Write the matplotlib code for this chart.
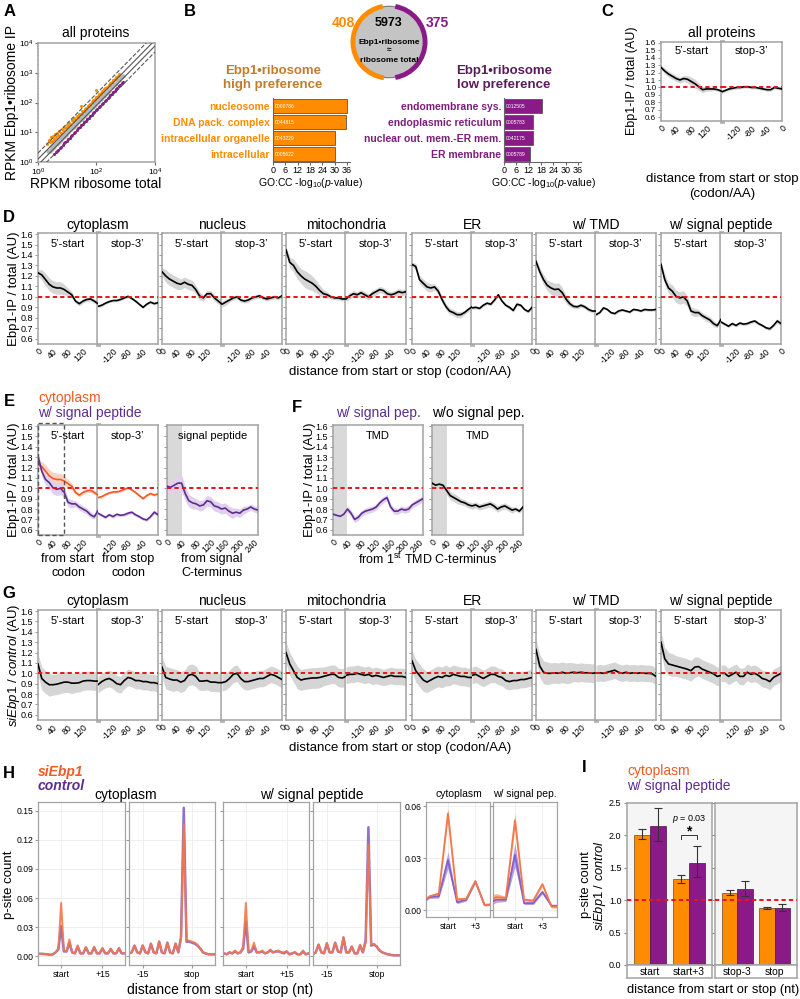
import matplotlib.pyplot as plt
from matplotlib.patches import Circle, Arc, Rectangle
import numpy as np

plt.rcParams['font.family'] = ['Liberation Sans', 'DejaVu Sans']
plt.rcParams['mathtext.fontset'] = 'custom'
plt.rcParams['mathtext.rm'] = 'Liberation Sans'
plt.rcParams['mathtext.it'] = 'Liberation Sans:italic'
plt.rcParams['mathtext.bf'] = 'Liberation Sans:bold'

# ---------------- data ----------------
# A: RPKM scatter (total, IP)
A_GREY_X = [2.2, 2.5, 2.8, 3.0, 3.3, 3.6, 4.0, 4.3, 4.8, 5.2, 5.7, 6.2, 6.8, 7.5, 8.2, 9.0, 10, 11, 12, 13.5,
            15, 16.5, 18, 20, 22, 25, 28, 31, 35, 39, 43, 48, 53, 60, 66, 74, 82, 92, 100, 112,
            125, 140, 155, 175, 195, 220, 245, 275, 310, 350, 400, 450, 520, 600, 700, 800]
A_GREY_Y = [2.4, 2.3, 3.1, 2.7, 3.6, 3.3, 4.3, 3.9, 5.2, 4.7, 6.1, 5.6, 7.3, 6.9, 8.8, 8.3, 10.8, 10, 13, 12.4,
            16, 15, 19.5, 18.5, 24, 23, 30, 28.5, 37, 36, 46, 44, 57, 55, 71, 68, 88, 85, 107, 103,
            134, 129, 166, 161, 209, 202, 262, 253, 330, 322, 425, 415, 550, 555, 740, 760]
A_HIGH_X = [2.1, 2.3, 2.5, 2.7, 3.0, 3.2, 3.5, 3.8, 4.1, 4.5, 5.0, 5.4, 6.0, 6.5, 7.2, 8.0, 8.8, 9.5, 10.5, 11.5,
            12.5, 14, 15.5, 17, 19, 21, 23, 26, 29, 32, 36, 40, 45, 50, 56, 62, 70, 78, 88, 98,
            110, 125, 140, 160, 180, 200, 230, 260, 300, 340, 380, 430, 480, 540, 600, 95, 30]
A_HIGH_Y = [4.0, 5.5, 4.6, 6.8, 5.2, 7.5, 6.0, 8.5, 7.0, 9.5, 8.0, 11, 9.5, 13, 11.5, 15, 13.5, 18, 16, 21,
            19, 26, 23, 30, 28, 35, 33, 42, 40, 50, 52, 62, 66, 75, 85, 92, 105, 120, 135, 150,
            170, 190, 210, 240, 280, 300, 340, 380, 440, 500, 560, 620, 700, 800, 900, 260, 75]
A_LOW_X = [3.5, 4.0, 4.5, 5.0, 5.5, 6.2, 7.0, 7.8, 8.6, 9.5, 10.5, 12, 13.5, 15, 17, 19, 21.5, 24, 27, 30,
           34, 38, 43, 48, 54, 60, 68, 76, 85, 95, 107, 120, 135, 150, 170, 190, 215, 240, 270, 300,
           340, 380, 420, 470, 520, 580, 650, 720, 800]
A_LOW_Y = [1.9, 2.1, 2.4, 2.6, 3.0, 3.3, 3.8, 4.2, 4.8, 5.2, 5.8, 6.6, 7.4, 8.3, 9.5, 10.5, 12, 13.5, 15, 17,
           19, 21.5, 24, 27, 30, 34, 38, 43, 48, 54, 61, 68, 77, 86, 97, 110, 124, 140, 158, 178,
           200, 225, 250, 280, 310, 350, 400, 450, 500]

# B: counts and GO enrichment
B_HIGH_N, B_ALL_N, B_LOW_N = 408, 5973, 375
B_HIGH_TERMS = ['nucleosome', 'DNA pack. complex', 'intracellular organelle', 'intracellular']
B_HIGH_IDS = ['0000786', '0044815', '0043229', '0005622']
B_HIGH_VALS = [36.0, 35.6, 30.0, 30.4]
B_LOW_TERMS = ['endomembrane sys.', 'endoplasmic reticulum', 'nuclear out. mem.-ER mem.', 'ER membrane']
B_LOW_IDS = ['0012505', '0005783', '0042175', '0005789']
B_LOW_VALS = [18.4, 14.2, 14.0, 12.9]

# C-G: metagene profiles (position in codons)
POS_START = [0, 10, 20, 30, 40, 50, 60, 70, 80, 90, 100, 110, 120, 130, 140, 150, 160]
POS_STOP = [-160, -150, -140, -130, -120, -110, -100, -90, -80, -70, -60, -50, -40, -30, -20, -10, 0]

C_ALL_START = [1.27, 1.22, 1.18, 1.15, 1.12, 1.10, 1.12, 1.11, 1.08, 1.05, 1.01, 0.97, 0.98, 0.98, 0.98, 0.97, 0.95]
C_ALL_START_BW = [0.03, 0.04, 0.04, 0.04, 0.04, 0.04, 0.04, 0.05, 0.06, 0.06, 0.05, 0.04, 0.03, 0.03, 0.02, 0.02, 0.02]
C_ALL_STOP = [0.94, 0.96, 0.98, 0.99, 1.0, 1.0, 1.01, 1.01, 1.0, 1.0, 0.99, 0.98, 0.97, 0.97, 1.0, 0.99, 0.98]
C_ALL_STOP_BW = [0.02, 0.02, 0.02, 0.02, 0.02, 0.02, 0.02, 0.02, 0.02, 0.02, 0.02, 0.02, 0.02, 0.02, 0.02, 0.02, 0.02]

D_CYTO_START = [1.23, 1.21, 1.165, 1.12, 1.095, 1.085, 1.085, 1.07, 1.045, 1.02, 0.96, 0.935, 0.96, 0.975, 0.98, 0.96, 0.935]
D_CYTO_START_BW = [0.03, 0.05, 0.06, 0.06, 0.06, 0.06, 0.06, 0.05, 0.04, 0.03, 0.02, 0.02, 0.02, 0.02, 0.02, 0.02, 0.02]
D_CYTO_STOP = [0.91, 0.92, 0.94, 0.955, 0.965, 0.965, 0.975, 0.99, 1.005, 0.985, 0.96, 0.93, 0.90, 0.93, 0.95, 0.935, 0.945]
D_CYTO_STOP_BW = [0.015, 0.015, 0.012, 0.012, 0.012, 0.012, 0.012, 0.012, 0.012, 0.012, 0.012, 0.012, 0.012, 0.012, 0.012, 0.012, 0.012]
D_NUC_START = [1.24, 1.20, 1.17, 1.15, 1.13, 1.12, 1.14, 1.12, 1.11, 1.07, 1.01, 0.99, 1.03, 1.03, 0.99, 0.96, 0.93]
D_NUC_START_BW = [0.04, 0.06, 0.06, 0.06, 0.06, 0.05, 0.05, 0.05, 0.05, 0.04, 0.04, 0.03, 0.03, 0.03, 0.03, 0.03, 0.03]
D_NUC_STOP = [0.93, 0.95, 0.97, 0.99, 1.0, 0.97, 0.96, 0.97, 0.99, 1.0, 1.01, 0.99, 0.98, 0.99, 1.0, 0.99, 1.01]
D_NUC_STOP_BW = [0.03, 0.03, 0.02, 0.02, 0.02, 0.02, 0.02, 0.02, 0.02, 0.02, 0.02, 0.02, 0.02, 0.02, 0.02, 0.02, 0.02]
D_MITO_START = [1.45, 1.33, 1.30, 1.24, 1.20, 1.17, 1.15, 1.13, 1.10, 1.06, 1.03, 1.02, 1.00, 0.99, 0.99, 0.98, 0.98]
D_MITO_START_BW = [0.03, 0.05, 0.06, 0.07, 0.07, 0.08, 0.08, 0.07, 0.06, 0.05, 0.04, 0.03, 0.02, 0.02, 0.02, 0.02, 0.02]
D_MITO_STOP = [0.98, 1.01, 1.03, 1.02, 1.04, 1.02, 1.00, 1.03, 1.05, 1.07, 1.06, 1.03, 1.02, 1.03, 1.05, 1.04, 1.05]
D_MITO_STOP_BW = [0.03, 0.03, 0.03, 0.03, 0.03, 0.03, 0.03, 0.03, 0.03, 0.03, 0.03, 0.03, 0.03, 0.03, 0.03, 0.03, 0.03]
D_ER_START = [1.31, 1.29, 1.165, 1.13, 1.095, 1.085, 1.095, 1.055, 0.975, 0.91, 0.865, 0.85, 0.83, 0.83, 0.85, 0.88, 0.905]
D_ER_START_BW = [0.02, 0.03, 0.04, 0.04, 0.04, 0.04, 0.03, 0.03, 0.03, 0.03, 0.03, 0.03, 0.03, 0.03, 0.02, 0.02, 0.02]
D_ER_STOP = [0.895, 0.90, 0.89, 0.92, 0.94, 0.93, 0.97, 1.02, 0.96, 0.92, 0.90, 0.87, 0.93, 0.92, 0.88, 0.86, 0.90]
D_ER_STOP_BW = [0.015, 0.015, 0.015, 0.015, 0.015, 0.015, 0.015, 0.015, 0.015, 0.015, 0.015, 0.015, 0.015, 0.015, 0.015, 0.015, 0.015]
D_TMD_START = [1.34, 1.24, 1.165, 1.11, 1.085, 1.07, 1.075, 1.04, 0.98, 0.935, 0.91, 0.905, 0.92, 0.905, 0.88, 0.865, 0.865]
D_TMD_START_BW = [0.02, 0.04, 0.05, 0.05, 0.06, 0.06, 0.06, 0.05, 0.04, 0.03, 0.02, 0.02, 0.02, 0.02, 0.02, 0.015, 0.015]
D_TMD_STOP = [0.83, 0.85, 0.895, 0.88, 0.85, 0.84, 0.865, 0.875, 0.865, 0.855, 0.88, 0.875, 0.865, 0.88, 0.875, 0.875, 0.88]
D_TMD_STOP_BW = [0.012, 0.012, 0.012, 0.012, 0.012, 0.012, 0.012, 0.012, 0.012, 0.012, 0.012, 0.012, 0.012, 0.012, 0.012, 0.012, 0.012]
D_SIG_START = [1.31, 1.165, 1.085, 1.055, 1.005, 0.99, 1.0, 0.96, 0.865, 0.85, 0.85, 0.82, 0.80, 0.78, 0.745, 0.725, 0.785]
D_SIG_START_BW = [0.03, 0.05, 0.05, 0.06, 0.06, 0.06, 0.06, 0.05, 0.04, 0.04, 0.03, 0.03, 0.03, 0.03, 0.03, 0.02, 0.02]
D_SIG_STOP = [0.76, 0.74, 0.72, 0.745, 0.727, 0.75, 0.74, 0.745, 0.76, 0.77, 0.745, 0.727, 0.705, 0.695, 0.727, 0.77, 0.745]
D_SIG_STOP_BW = [0.015, 0.015, 0.015, 0.015, 0.015, 0.015, 0.015, 0.015, 0.015, 0.015, 0.015, 0.015, 0.015, 0.015, 0.015, 0.02, 0.02]

# E/F: positions from signal / TMD C-terminus
POS_CTERM = [0, 10, 20, 30, 40, 50, 60, 70, 80, 90, 100, 110, 120, 130, 140, 150, 160, 170, 180, 190, 200, 210, 220, 230, 240, 250]
E_SP = [1.02, 1.01, 1.03, 1.05, 1.05, 0.95, 0.88, 0.86, 0.85, 0.83, 0.84, 0.88, 0.87, 0.83, 0.82, 0.80, 0.81, 0.78, 0.76, 0.77, 0.76, 0.79, 0.80, 0.82, 0.80, 0.79]
E_SP_BW = [0.05, 0.06, 0.07, 0.08, 0.08, 0.07, 0.06, 0.06, 0.05, 0.05, 0.05, 0.05, 0.05, 0.05, 0.05, 0.05, 0.05, 0.05, 0.05, 0.04, 0.04, 0.04, 0.03, 0.03, 0.03, 0.03]
F_SIG = [0.75, 0.74, 0.73, 0.75, 0.80, 0.76, 0.70, 0.72, 0.76, 0.78, 0.79, 0.80, 0.82, 0.86, 0.89, 0.91, 0.82, 0.78, 0.78, 0.80, 0.79, 0.80, 0.84, 0.86, 0.88, 0.90]
F_SIG_BW = [0.02, 0.02, 0.02, 0.02, 0.03, 0.03, 0.03, 0.03, 0.03, 0.03, 0.03, 0.03, 0.03, 0.03, 0.03, 0.03, 0.03, 0.03, 0.03, 0.03, 0.03, 0.03, 0.03, 0.03, 0.03, 0.03]
F_NOSIG = [1.05, 1.03, 1.04, 1.03, 0.98, 0.93, 0.91, 0.89, 0.87, 0.86, 0.84, 0.83, 0.84, 0.82, 0.83, 0.84, 0.85, 0.83, 0.80, 0.82, 0.83, 0.81, 0.79, 0.80, 0.78, 0.82]
F_NOSIG_BW = [0.03, 0.03, 0.03, 0.03, 0.04, 0.04, 0.04, 0.04, 0.03, 0.03, 0.03, 0.03, 0.03, 0.03, 0.03, 0.03, 0.03, 0.03, 0.03, 0.03, 0.03, 0.03, 0.03, 0.02, 0.02, 0.02]

# G: siEbp1 / control
G_CYTO_START = [1.09, 0.95, 0.915, 0.89, 0.89, 0.895, 0.905, 0.915, 0.915, 0.905, 0.905, 0.91, 0.925, 0.93, 0.93, 0.925, 0.925]
G_CYTO_STOP = [0.89, 0.92, 0.94, 0.95, 0.93, 0.90, 0.89, 0.93, 0.96, 0.95, 0.93, 0.93, 0.92, 0.92, 0.91, 0.91, 0.90]
G_NUC_START = [1.06, 0.96, 0.945, 0.935, 0.935, 0.915, 0.93, 0.98, 0.99, 0.97, 0.925, 0.925, 0.93, 0.915, 0.915, 0.91, 0.91]
G_NUC_STOP = [0.91, 0.92, 0.95, 0.99, 1.0, 0.95, 0.92, 0.92, 0.93, 0.94, 0.95, 0.95, 0.97, 0.99, 0.98, 0.96, 0.94]
G_MITO_START = [1.20, 1.09, 1.025, 0.96, 0.935, 0.945, 0.95, 0.955, 0.955, 0.96, 0.97, 0.98, 0.99, 0.99, 0.96, 0.955, 0.97]
G_MITO_STOP = [0.98, 0.99, 0.99, 1.0, 0.99, 0.98, 0.99, 0.97, 0.98, 0.97, 0.96, 0.97, 0.98, 0.97, 0.97, 0.97, 0.96]
G_ER_START = [1.12, 1.025, 0.98, 0.935, 0.915, 0.935, 0.955, 0.97, 0.96, 0.98, 0.97, 0.99, 0.98, 0.97, 0.97, 0.96, 0.96]
G_ER_STOP = [0.98, 0.99, 0.97, 0.95, 0.97, 0.99, 0.99, 0.97, 0.96, 0.93, 0.92, 0.93, 0.93, 0.94, 0.94, 0.95, 0.96]
G_TMD_START = [1.23, 1.07, 1.01, 1.0, 1.0, 1.005, 1.0, 1.01, 1.0, 1.005, 1.01, 1.005, 1.01, 1.005, 1.005, 1.0, 1.005]
G_TMD_STOP = [1.0, 1.005, 1.0, 1.01, 1.02, 1.03, 1.01, 1.0, 1.01, 1.0, 1.005, 1.0, 1.005, 1.0, 1.0, 0.995, 0.97]
G_SIG_START = [1.30, 1.14, 1.09, 1.08, 1.07, 1.06, 1.05, 1.04, 1.025, 1.06, 1.065, 1.04, 1.025, 1.01, 0.995, 0.97, 0.98]
G_SIG_STOP = [1.0, 1.0, 0.97, 0.99, 1.01, 0.97, 0.97, 1.01, 0.99, 1.0, 0.98, 0.95, 0.94, 0.92, 0.96, 0.98, 1.0]
G_START_BW = [0.10, 0.11, 0.11, 0.11, 0.10, 0.10, 0.10, 0.10, 0.10, 0.10, 0.09, 0.09, 0.09, 0.09, 0.09, 0.09, 0.09]
G_STOP_BW = [0.08, 0.08, 0.08, 0.08, 0.08, 0.08, 0.08, 0.08, 0.08, 0.08, 0.08, 0.08, 0.08, 0.08, 0.08, 0.08, 0.08]

# H: p-site counts (nt)
H_POS_START = list(range(-8, 24))
H_POS_STOP = list(range(-20, 12))
H_CYTO_START_SI = [0.0025, 0.0025, 0.0025, 0.002, 0.0015, 0.002, 0.004, 0.008, 0.055, 0.006, 0.005, 0.0173, 0.004, 0.003, 0.0113, 0.003,
                   0.003, 0.0095, 0.003, 0.003, 0.010, 0.003, 0.003, 0.0085, 0.003, 0.003, 0.0078, 0.003, 0.003, 0.0088, 0.003, 0.003]
H_CYTO_START_CT = [0.0025, 0.0025, 0.0022, 0.002, 0.0015, 0.002, 0.004, 0.007, 0.031, 0.005, 0.005, 0.014, 0.004, 0.003, 0.010, 0.003,
                   0.003, 0.009, 0.003, 0.003, 0.009, 0.003, 0.003, 0.008, 0.003, 0.003, 0.0075, 0.003, 0.003, 0.008, 0.003, 0.003]
H_CYTO_STOP_SI = [0.003, 0.004, 0.011, 0.004, 0.003, 0.011, 0.004, 0.003, 0.013, 0.004, 0.003, 0.0155, 0.004, 0.003, 0.014, 0.004,
                  0.003, 0.013, 0.004, 0.018, 0.136, 0.017, 0.016, 0.015, 0.014, 0.012, 0.008, 0.004, 0.003, 0.002, 0.002, 0.002]
H_CYTO_STOP_CT = [0.003, 0.004, 0.011, 0.004, 0.003, 0.011, 0.004, 0.003, 0.013, 0.004, 0.003, 0.015, 0.004, 0.003, 0.014, 0.004,
                  0.003, 0.013, 0.004, 0.020, 0.153, 0.015, 0.015, 0.014, 0.013, 0.011, 0.008, 0.004, 0.003, 0.002, 0.002, 0.002]
H_SIG_START_SI = [0.003, 0.002, 0.004, 0.003, 0.006, 0.003, 0.004, 0.010, 0.055, 0.005, 0.006, 0.014, 0.004, 0.004, 0.006, 0.003,
                  0.004, 0.007, 0.004, 0.005, 0.006, 0.004, 0.004, 0.005, 0.002, 0.003, 0.004, 0.002, 0.002, 0.006, 0.002, 0.003]
H_SIG_START_CT = [0.003, 0.002, 0.004, 0.003, 0.005, 0.003, 0.004, 0.008, 0.036, 0.004, 0.005, 0.010, 0.004, 0.004, 0.005, 0.003,
                  0.004, 0.006, 0.004, 0.005, 0.005, 0.004, 0.003, 0.005, 0.002, 0.003, 0.004, 0.002, 0.002, 0.005, 0.002, 0.003]
H_SIG_STOP_SI = [0.002, 0.004, 0.012, 0.004, 0.003, 0.014, 0.004, 0.004, 0.014, 0.005, 0.004, 0.020, 0.004, 0.004, 0.010, 0.003,
                 0.003, 0.012, 0.004, 0.014, 0.115, 0.012, 0.013, 0.010, 0.006, 0.004, 0.003, 0.002, 0.0015, 0.001, 0.001, 0.001]
H_SIG_STOP_CT = [0.002, 0.004, 0.012, 0.004, 0.003, 0.013, 0.004, 0.004, 0.014, 0.005, 0.004, 0.019, 0.004, 0.004, 0.010, 0.003,
                 0.003, 0.011, 0.004, 0.016, 0.133, 0.011, 0.012, 0.010, 0.006, 0.004, 0.003, 0.002, 0.0015, 0.001, 0.001, 0.001]

# H insets around start codon
H_INSET_POS = [-3, -2, -1, 0, 1, 2, 3, 4, 5]
H_IN_CYTO_SI = [0.0043, 0.008, 0.0095, 0.056, 0.0062, 0.0065, 0.0168, 0.003, 0.0033]
H_IN_CYTO_SI_BW = [0.0005, 0.0008, 0.001, 0.003, 0.0008, 0.0008, 0.0008, 0.0005, 0.0005]
H_IN_CYTO_CT = [0.004, 0.0075, 0.008, 0.029, 0.0045, 0.006, 0.0165, 0.003, 0.0033]
H_IN_CYTO_CT_BW = [0.0005, 0.0008, 0.001, 0.005, 0.0008, 0.0008, 0.0008, 0.0005, 0.0005]
H_IN_SIG_SI = [0.0055, 0.0075, 0.007, 0.052, 0.006, 0.0055, 0.015, 0.002, 0.002]
H_IN_SIG_SI_BW = [0.003, 0.002, 0.001, 0.004, 0.0008, 0.0008, 0.001, 0.0008, 0.0008]
H_IN_SIG_CT = [0.004, 0.006, 0.006, 0.032, 0.004, 0.004, 0.0105, 0.0025, 0.0025]
H_IN_SIG_CT_BW = [0.002, 0.0015, 0.001, 0.007, 0.0008, 0.0008, 0.001, 0.0008, 0.0008]

# I: ratio siEbp1 / control
I_GROUPS = ['start', 'start+3', 'stop-3', 'stop']
I_CYTO = [2.01, 1.32, 1.11, 0.88]
I_CYTO_LO = [1.95, 1.27, 1.08, 0.86]
I_CYTO_HI = [2.10, 1.39, 1.16, 0.90]
I_SIG = [2.15, 1.58, 1.17, 0.88]
I_SIG_LO = [1.91, 1.36, 1.07, 0.84]
I_SIG_HI = [2.42, 1.84, 1.29, 0.94]

# ---------------- style ----------------
ORANGE = '#ff8c00'
PURPLE = '#8b1a89'
CYTO = '#f15a24'
SIGP = '#5c2d91'
RED = '#e8141b'
SPINE = '#a3a3a3'
BAND = '#d5d5d5'

W, H = 800, 999
fig = plt.figure(figsize=(8, 9.99), dpi=100)


def box(x0, y0, x1, y1):
    return [x0 / W, 1 - y1 / H, (x1 - x0) / W, (y1 - y0) / H]


def T(x, y, s, **kw):
    kw.setdefault('ha', 'center')
    kw.setdefault('va', 'center')
    fig.text(x / W, 1 - y / H, s, **kw)


def spines(ax, lw=1.1):
    for s in ax.spines.values():
        s.set_color(SPINE)
        s.set_linewidth(lw)


def style_profile(ax, lim, ticks, show_ylab, ylab_size=6.5):
    ax.set_xlim(lim)
    ax.set_ylim(0.55, 1.61)
    ax.set_xticks(ticks)
    ax.set_xticklabels([str(t) for t in ticks], rotation=45, ha='right',
                       rotation_mode='anchor', fontsize=6.3)
    yt = [0.6, 0.7, 0.8, 0.9, 1.0, 1.1, 1.2, 1.3, 1.4, 1.5, 1.6]
    ax.set_yticks(yt)
    ax.set_yticklabels([f'{v:.1f}' for v in yt] if show_ylab else [])
    ax.tick_params(axis='x', length=0, pad=2)
    ax.tick_params(axis='y', length=2, width=0.6, color='#888', labelsize=ylab_size, pad=1.5)
    ax.axhline(1.0, color=RED, ls=(0, (2.2, 1.6)), lw=1.4, zorder=5)
    spines(ax)


def pair(x0, y0, x1, y1, show_ylab=False, ylab_size=6.5):
    mid = (x0 + x1) / 2
    a = fig.add_axes(box(x0, y0, mid, y1))
    b = fig.add_axes(box(mid, y0, x1, y1))
    style_profile(a, (0, 160), [0, 40, 80, 120], show_ylab, ylab_size)
    style_profile(b, (-160, 0), [-120, -80, -40, 0], False)
    a.spines['right'].set_linewidth(3.5)
    a.spines['right'].set_color('#b5b5b5')
    b.spines['left'].set_visible(False)
    b.tick_params(axis='y', length=0)
    a.text(0.5, 0.95, "5\u2019-start", transform=a.transAxes, ha='center', va='top', fontsize=8)
    b.text(0.5, 0.95, "stop-3\u2019", transform=b.transAxes, ha='center', va='top', fontsize=8)
    return a, b


def series(ax, x, y, bw, color='black', band=BAND, lw=1.2):
    x, y, bw = np.asarray(x), np.asarray(y), np.asarray(bw)
    ax.fill_between(x, y - bw, y + bw, color=band, lw=0, zorder=1)
    ax.plot(x, y, color=color, lw=lw, zorder=3)


# ---------------- panel letters ----------------
for lab, x, y in [('A', 10, 12), ('B', 190, 12), ('C', 607, 12), ('D', 9, 217), ('E', 9, 402),
                  ('F', 297, 407), ('G', 9, 593), ('H', 9, 774), ('I', 584, 768)]:
    T(x, y, lab, fontsize=12, fontweight='bold')

# ---------------- A ----------------
axA = fig.add_axes(box(38, 43, 155, 162))
axA.set_xscale('log')
axA.set_yscale('log')
axA.set_xlim(1, 1e4)
axA.set_ylim(1, 1e4)
axA.scatter(A_GREY_X, A_GREY_Y, s=10, color='#b5b5b5', lw=0, zorder=2)
axA.scatter(A_HIGH_X, A_HIGH_Y, s=5, color=ORANGE, lw=0, zorder=3)
axA.scatter(A_LOW_X, A_LOW_Y, s=5, color=PURPLE, lw=0, zorder=3)
for f, ls in [(1.25, '-'), (0.8, '-'), (2.0, '--'), (0.5, '--')]:
    axA.plot([1, 1e4], [f, f * 1e4], color='#555', lw=0.8, ls=ls, zorder=4)
axA.tick_params(labelsize=6, length=2, pad=1.5, color='#666')
axA.tick_params(which='minor', length=1, color='#888')
spines(axA)
T(96, 33, 'all proteins', fontsize=10)
T(96, 184, 'RPKM ribosome total', fontsize=10)
T(12, 102, 'RPKM Ebp1\u2022ribosome IP', fontsize=10, rotation=90)

# ---------------- B ----------------
axV = fig.add_axes(box(346, 2, 432, 82))
axV.set_xlim(-1.12, 1.12)
axV.set_ylim(-1.12, 1.12)
axV.set_aspect('equal')
axV.axis('off')
axV.add_patch(Circle((0, 0), 1, facecolor='#c4c4c4', edgecolor='#777', lw=0.8))
axV.add_patch(Arc((0, 0), 2.02, 2.02, theta1=100, theta2=262, color=ORANGE, lw=3.5))
axV.add_patch(Arc((0, 0), 2.02, 2.02, theta1=-80, theta2=80, color=PURPLE, lw=3.5))
T(343, 23, str(B_HIGH_N), fontsize=10, fontweight='bold', color=ORANGE)
T(389, 23, str(B_ALL_N), fontsize=9, fontweight='bold')
T(437, 23, str(B_LOW_N), fontsize=10, fontweight='bold', color=PURPLE)
T(389, 43, 'Ebp1\u2022ribosome', fontsize=6, fontweight='bold')
T(389, 51, '\u2248', fontsize=6, fontweight='bold')
T(389, 60, 'ribosome total', fontsize=6, fontweight='bold')

T(273, 78, 'Ebp1\u2022ribosome\nhigh preference', fontsize=9.5, fontweight='bold',
  color='#c27c2c', linespacing=1.15)
T(504, 78, 'Ebp1\u2022ribosome\nlow preference', fontsize=9.5, fontweight='bold',
  color='#5a1d5c', linespacing=1.15)

for (x0, x1), terms, ids, vals, col, tcol, xc in [
        ((273, 350), B_HIGH_TERMS, B_HIGH_IDS, B_HIGH_VALS, ORANGE, ORANGE, 310),
        ((504, 581), B_LOW_TERMS, B_LOW_IDS, B_LOW_VALS, PURPLE, '#7b1f7b', 543)]:
    ax = fig.add_axes(box(x0, 98, x1, 162))
    yy = np.arange(len(vals))
    ax.barh(yy, vals, height=0.82, color=col, edgecolor='#555', lw=0.6)
    for yi, gid in zip(yy, ids):
        ax.text(0.8, yi, gid, color='white', fontsize=3.6, va='center', ha='left')
    ax.set_xlim(0, 37.5)
    ax.set_ylim(len(vals) - 0.5, -0.5)
    ax.set_yticks(yy)
    ax.set_yticklabels(terms, fontsize=7.5, fontweight='bold', color=tcol)
    ax.set_xticks([0, 6, 12, 18, 24, 30, 36])
    ax.tick_params(axis='x', labelsize=6.5, length=2, pad=1, color='#666')
    ax.tick_params(axis='y', length=0, pad=2)
    for s in ('top', 'right'):
        ax.spines[s].set_visible(False)
    ax.spines['left'].set_color('#666')
    ax.spines['bottom'].set_color('#666')
    ax.spines['left'].set_linewidth(0.8)
    ax.spines['bottom'].set_linewidth(0.8)
    T(xc, 183, 'GO:CC -log$_{10}$($\\it{p}$-value)', fontsize=7.5)

# ---------------- C ----------------
a, b = pair(661, 42, 782, 121, show_ylab=True, ylab_size=5.8)
series(a, POS_START, C_ALL_START, C_ALL_START_BW)
series(b, POS_STOP, C_ALL_STOP, C_ALL_STOP_BW)
T(722, 33, 'all proteins', fontsize=10)
T(632, 81, 'Ebp1-IP / total (AU)', fontsize=9, rotation=90)
T(722, 179, 'distance from start or stop', fontsize=9.5)
T(722, 194, '(codon/AA)', fontsize=9.5)

# ---------------- D ----------------
PANEL_X = [38, 162, 286, 412, 536, 661]
PANEL_NAMES = ['cytoplasm', 'nucleus', 'mitochondria', 'ER', 'w/ TMD', 'w/ signal peptide']
D_CURVES = [(D_CYTO_START, D_CYTO_START_BW, D_CYTO_STOP, D_CYTO_STOP_BW),
            (D_NUC_START, D_NUC_START_BW, D_NUC_STOP, D_NUC_STOP_BW),
            (D_MITO_START, D_MITO_START_BW, D_MITO_STOP, D_MITO_STOP_BW),
            (D_ER_START, D_ER_START_BW, D_ER_STOP, D_ER_STOP_BW),
            (D_TMD_START, D_TMD_START_BW, D_TMD_STOP, D_TMD_STOP_BW),
            (D_SIG_START, D_SIG_START_BW, D_SIG_STOP, D_SIG_STOP_BW)]
for i, (x0, name, (s, sbw, e, ebw)) in enumerate(zip(PANEL_X, PANEL_NAMES, D_CURVES)):
    a, b = pair(x0, 233, x0 + 120, 344, show_ylab=(i == 0))
    series(a, POS_START, s, sbw)
    series(b, POS_STOP, e, ebw)
    T(x0 + 60, 225, name, fontsize=10)
T(14, 289, 'Ebp1-IP / total (AU)', fontsize=9.5, rotation=90)
T(400, 372, 'distance from start or stop (codon/AA)', fontsize=9.5)

# ---------------- E ----------------
T(38, 398, 'cytoplasm', fontsize=10, color=CYTO, ha='left')
T(38, 413, 'w/ signal peptide', fontsize=10, color=SIGP, ha='left')
a, b = pair(38, 425, 158, 535, show_ylab=True)
series(a, POS_START, D_CYTO_START, D_CYTO_START_BW, color=CYTO, band='#f9d3bf')
series(b, POS_STOP, D_CYTO_STOP, D_CYTO_STOP_BW, color=CYTO, band='#f9d3bf')
series(a, POS_START, D_SIG_START, D_SIG_START_BW, color=SIGP, band='#e0d0ea')
series(b, POS_STOP, D_SIG_STOP, D_SIG_STOP_BW, color=SIGP, band='#e0d0ea')
a.add_patch(Rectangle((0, 0), 70, 1.02, transform=a.get_xaxis_transform(), fill=False,
                      ls=(0, (3, 2)), edgecolor='#555', lw=1.0, clip_on=False, zorder=6))


def single(x0, x1, head):
    ax = fig.add_axes(box(x0, 425, x1, 535))
    ticks = [0, 40, 80, 120, 160, 200, 240]
    style_profile(ax, (0, 250), ticks, False)
    ax.axvspan(0, 40, color='#d9d9d9', lw=0, zorder=0)
    ax.text(0.5, 0.95, head, transform=ax.transAxes, ha='center', va='top', fontsize=8)
    return ax


ax = single(167, 258, 'signal peptide')
series(ax, POS_CTERM, E_SP, E_SP_BW, color=SIGP, band='#e0d0ea')
T(14, 480, 'Ebp1-IP / total (AU)', fontsize=9.5, rotation=90)
T(68, 566, 'from start\ncodon', fontsize=9, linespacing=1.2)
T(128, 566, 'from stop\ncodon', fontsize=9, linespacing=1.2)
T(212, 566, 'from signal\nC-terminus', fontsize=9, linespacing=1.2)

# ---------------- F ----------------
T(378, 413, 'w/ signal pep.', fontsize=10, color=SIGP)
T(478, 413, 'w/o signal pep.', fontsize=10)
ax = single(333, 423, 'TMD')
ax.set_yticklabels([f'{v:.1f}' for v in ax.get_yticks()])
series(ax, POS_CTERM, F_SIG, F_SIG_BW, color=SIGP, band='#e0d0ea')
ax = single(432, 523, 'TMD')
series(ax, POS_CTERM, F_NOSIG, F_NOSIG_BW)
T(310, 480, 'Ebp1-IP / total (AU)', fontsize=9.5, rotation=90)
T(428, 559, 'from 1$^{\\mathrm{st}}$ TMD C-terminus', fontsize=9)

# ---------------- G ----------------
G_CURVES = [(G_CYTO_START, G_CYTO_STOP), (G_NUC_START, G_NUC_STOP), (G_MITO_START, G_MITO_STOP),
            (G_ER_START, G_ER_STOP), (G_TMD_START, G_TMD_STOP), (G_SIG_START, G_SIG_STOP)]
for i, (x0, name, (s, e)) in enumerate(zip(PANEL_X, PANEL_NAMES, G_CURVES)):
    a, b = pair(x0, 610, x0 + 120, 720, show_ylab=(i == 0))
    series(a, POS_START, s, G_START_BW)
    series(b, POS_STOP, e, G_STOP_BW)
    T(x0 + 60, 601, name, fontsize=10)
T(14, 665, '$\\it{siEbp1}$ / $\\it{control}$ (AU)', fontsize=9.5, rotation=90)
T(400, 748, 'distance from start or stop (codon/AA)', fontsize=9.5)

# ---------------- H ----------------
T(38, 772, 'siEbp1', fontsize=10, color=CYTO, ha='left', fontweight='bold', fontstyle='italic')
T(38, 786, 'control', fontsize=10, color=SIGP, ha='left', fontweight='bold', fontstyle='italic')
T(126, 795, 'cytoplasm', fontsize=10)
T(312, 795, 'w/ signal peptide', fontsize=10)
SI_COL, CT_COL = '#f4784a', '#8560c8'


def h_ax(x0, x1, y1, xlim, ylim, ticks, labels, yt, ylab):
    ax = fig.add_axes(box(x0, 802, x1, y1))
    ax.set_xlim(xlim)
    ax.set_ylim(ylim)
    ax.set_xticks(ticks)
    ax.set_xticklabels(labels, fontsize=7)
    ax.set_yticks(yt)
    ax.set_yticklabels([f'{v:.2f}' for v in yt] if ylab else [])
    ax.grid(True, color='#ececec', lw=0.6)
    ax.set_axisbelow(True)
    ax.tick_params(length=2, color='#999', labelsize=6.2, pad=1.5)
    spines(ax, 0.9)
    return ax


HYT = [0, 0.03, 0.06, 0.09, 0.12, 0.15]
for x0, x1, pos, si, ct, kind, ylab in [
        (38, 125, H_POS_START, H_CYTO_START_SI, H_CYTO_START_CT, 'start', True),
        (129, 215, H_POS_STOP, H_CYTO_STOP_SI, H_CYTO_STOP_CT, 'stop', False),
        (223, 309, H_POS_START, H_SIG_START_SI, H_SIG_START_CT, 'start', False),
        (313, 400, H_POS_STOP, H_SIG_STOP_SI, H_SIG_STOP_CT, 'stop', False)]:
    if kind == 'start':
        ax = h_ax(x0, x1, 965, (-8.4, 23.2), (-0.009, 0.159), [0, 15], ['start', '+15'], HYT, ylab)
    else:
        ax = h_ax(x0, x1, 965, (-20, 11.4), (-0.009, 0.159), [-15, 3], ['-15', 'stop'], HYT, ylab)
    ax.plot(pos, ct, color=CT_COL, lw=1.8, alpha=0.9)
    ax.plot(pos, si, color=SI_COL, lw=1.4, alpha=0.9)
T(9, 885, 'p-site count', fontsize=9.5, rotation=90)
T(220, 990, 'distance from start or stop (nt)', fontsize=10)

T(459, 794, 'cytoplasm', fontsize=7.5)
T(525, 794, 'w/ signal pep.', fontsize=7.5)
for x0, x1, si, sibw, ct, ctbw, ylab in [
        (426, 490, H_IN_CYTO_SI, H_IN_CYTO_SI_BW, H_IN_CYTO_CT, H_IN_CYTO_CT_BW, True),
        (493, 557, H_IN_SIG_SI, H_IN_SIG_SI_BW, H_IN_SIG_CT, H_IN_SIG_CT_BW, False)]:
    ax = h_ax(x0, x1, 917, (-2.4, 4.6), (-0.004, 0.0626), [0, 3], ['start', '+3'], [0, 0.03, 0.06], ylab)
    series(ax, H_INSET_POS, ct, ctbw, color=CT_COL, band='#b9a3e0', lw=1.3)
    series(ax, H_INSET_POS, si, sibw, color=SI_COL, band='#f7b394', lw=1.3)

# ---------------- I ----------------
T(627, 771, 'cytoplasm', fontsize=10, color=CYTO, ha='left')
T(627, 786, 'w/ signal peptide', fontsize=10, color=SIGP, ha='left')
bw = 0.42
for k, (x0, x1) in enumerate([(627, 712), (715, 797)]):
    ax = fig.add_axes(box(x0, 803, x1, 965))
    ax.set_facecolor('#f5f5f5')
    idx = [2 * k, 2 * k + 1]
    xs = np.array([1, 2])
    c = [I_CYTO[j] for j in idx]
    s = [I_SIG[j] for j in idx]
    cerr = [[I_CYTO[j] - I_CYTO_LO[j] for j in idx], [I_CYTO_HI[j] - I_CYTO[j] for j in idx]]
    serr = [[I_SIG[j] - I_SIG_LO[j] for j in idx], [I_SIG_HI[j] - I_SIG[j] for j in idx]]
    ax.bar(xs - bw / 2, c, width=bw, color=ORANGE, edgecolor='#6b4a2a', lw=0.5, zorder=2)
    ax.bar(xs + bw / 2, s, width=bw, color=PURPLE, edgecolor='#4a1448', lw=0.5, zorder=2)
    ax.errorbar(xs - bw / 2, c, yerr=cerr, fmt='none', ecolor='#333', elinewidth=0.8, capsize=3, capthick=0.8, zorder=3)
    ax.errorbar(xs + bw / 2, s, yerr=serr, fmt='none', ecolor='#333', elinewidth=0.8, capsize=3, capthick=0.8, zorder=3)
    ax.axhline(1.0, color=RED, ls=(0, (2.2, 1.6)), lw=1.4, zorder=4)
    ax.axhline(0.0, color='#777', lw=0.8, zorder=1)
    ax.set_xlim(0.4, 2.6)
    ax.set_ylim(0, 2.5)
    ax.set_xticks([])
    ax.set_yticks([0, 0.5, 1.0, 1.5, 2.0, 2.5])
    if k == 0:
        ax.set_yticklabels(['0.0', '0.5', '1.0', '1.5', '2.0', '2.5'])
        ax.plot([1.79, 1.79, 2.21, 2.21], [1.94, 2.0, 2.0, 1.94], color='#333', lw=0.7)
        ax.text(2, 2.0, '*', ha='center', va='baseline', fontsize=10, fontweight='bold')
        ax.text(2, 2.25, '$\\it{p}$ = 0.03', ha='center', va='center', fontsize=6.5)
    else:
        ax.set_yticklabels([])
    ax.tick_params(axis='y', length=2, color='#888', labelsize=6.5, pad=2)
    spines(ax, 1.1)
    sx = fig.add_axes(box(x0, 965, x1, 978))
    sx.set_xlim(0.4, 2.6)
    sx.set_ylim(0, 1)
    sx.set_xticks([])
    sx.set_yticks([])
    spines(sx, 1.1)
    for xi, j in zip(xs, idx):
        sx.text(xi, 0.45, I_GROUPS[j], ha='center', va='center', fontsize=7.5)
T(586, 885, 'p-site count', fontsize=9.3, rotation=90)
T(600, 885, '$\\it{siEbp1}$ / $\\it{control}$', fontsize=9.3, rotation=90)
T(713, 990, 'distance from start or stop (nt)', fontsize=9.3)

fig.savefig('out.png', dpi=100)
